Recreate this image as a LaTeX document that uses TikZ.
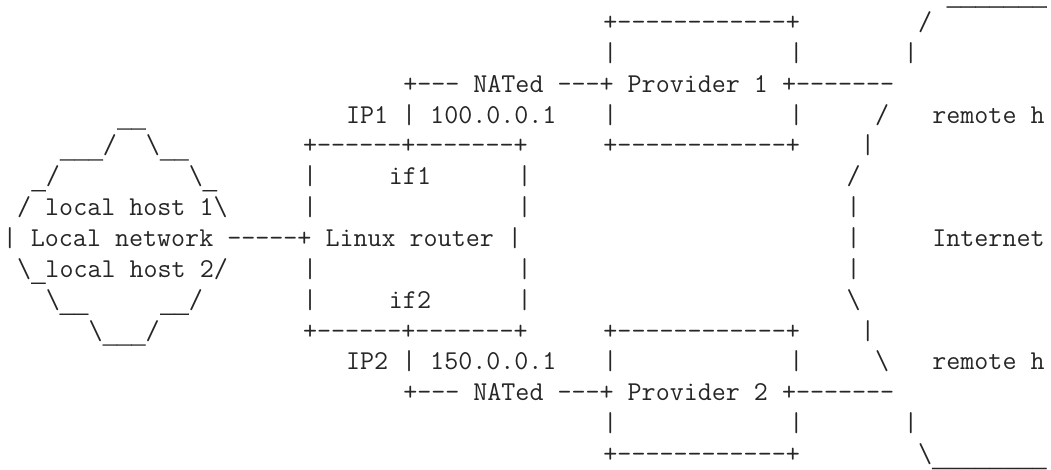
\documentclass[tikz,border=0pt]{standalone}
\usepackage{fontspec}
\newfontfamily\lmonofont{Liberation Mono}[FakeBold=0.5]
\tikzset{
  ascii/.style={anchor=base west, inner sep=0pt, outer sep=0pt,
    font=\ttfamily\fontsize{27.24}{30}\selectfont\addfontfeatures{FakeBold=0.6},
    text=black!85}
}
% underscore with a full-cell rule, so runs of them join up
\newcommand{\us}{\raisebox{-4pt}{\lmonofont\fontsize{23.83}{28}\selectfont\_}}
% one run of characters on the text grid: row, column, text
\newcommand{\asc}[3]{\node[ascii] (r#1c#2) at ({(2.85+#2*14.3)*1pt}, {-(246.5+(#1-8)*30.86)*1pt}) {#3};}
\begin{document}
\begin{tikzpicture}
\fill[white] (0,0) rectangle (1051pt,-470pt);
\useasboundingbox (0,0) rectangle (1051pt,-470pt);
% row 0 (its baseline sits a little lower so the rule stays on the page)
\node[ascii] (r0c66) at ({(2.85+66*14.3)*1pt}, -1pt) {\us\us\us\us\us\us\us};
% row 1
\asc{1}{42}{+------------+}
\asc{1}{64}{/}
% row 2
\asc{2}{42}{|}
\asc{2}{55}{|}
\asc{2}{63}{|}
% row 3
\asc{3}{28}{+--- NATed ---+ Provider 1 +-------}
% row 4
\asc{4}{8}{\us\us}
\asc{4}{24}{IP1 | 100.0.0.1}
\asc{4}{42}{|}
\asc{4}{55}{|}
\asc{4}{61}{/}
\asc{4}{65}{remote h}
% row 5
\asc{5}{4}{\us\us\us/}
\asc{5}{10}{\textbackslash\us\us}
\asc{5}{21}{+------+-------+}
\asc{5}{42}{+------------+}
\asc{5}{60}{|}
% row 6
\asc{6}{2}{\us/}
\asc{6}{13}{\textbackslash\us}
\asc{6}{21}{|}
\asc{6}{27}{if1}
\asc{6}{36}{|}
\asc{6}{59}{/}
% row 7
\asc{7}{1}{/ local host 1\textbackslash}
\asc{7}{21}{|}
\asc{7}{36}{|}
\asc{7}{59}{|}
% row 8
\asc{8}{0}{| Local network -----+ Linux router |}
\asc{8}{59}{|}
\asc{8}{65}{Internet}
% row 9
\asc{9}{1}{\textbackslash\us local host 2/}
\asc{9}{21}{|}
\asc{9}{36}{|}
\asc{9}{59}{|}
% row 10
\asc{10}{3}{\textbackslash\us\us}
\asc{10}{11}{\us\us/}
\asc{10}{21}{|}
\asc{10}{27}{if2}
\asc{10}{36}{|}
\asc{10}{59}{\textbackslash}
% row 11
\asc{11}{6}{\textbackslash\us\us\us/}
\asc{11}{21}{+------+-------+}
\asc{11}{42}{+------------+}
\asc{11}{60}{|}
% row 12
\asc{12}{24}{IP2 | 150.0.0.1}
\asc{12}{42}{|}
\asc{12}{55}{|}
\asc{12}{61}{\textbackslash}
\asc{12}{65}{remote h}
% row 13
\asc{13}{28}{+--- NATed ---+ Provider 2 +-------}
% row 14
\asc{14}{42}{|}
\asc{14}{55}{|}
\asc{14}{63}{|}
% row 15
\asc{15}{42}{+------------+}
\asc{15}{64}{\textbackslash\us\us\us\us\us\us\us\us}
\end{tikzpicture}
\end{document}
